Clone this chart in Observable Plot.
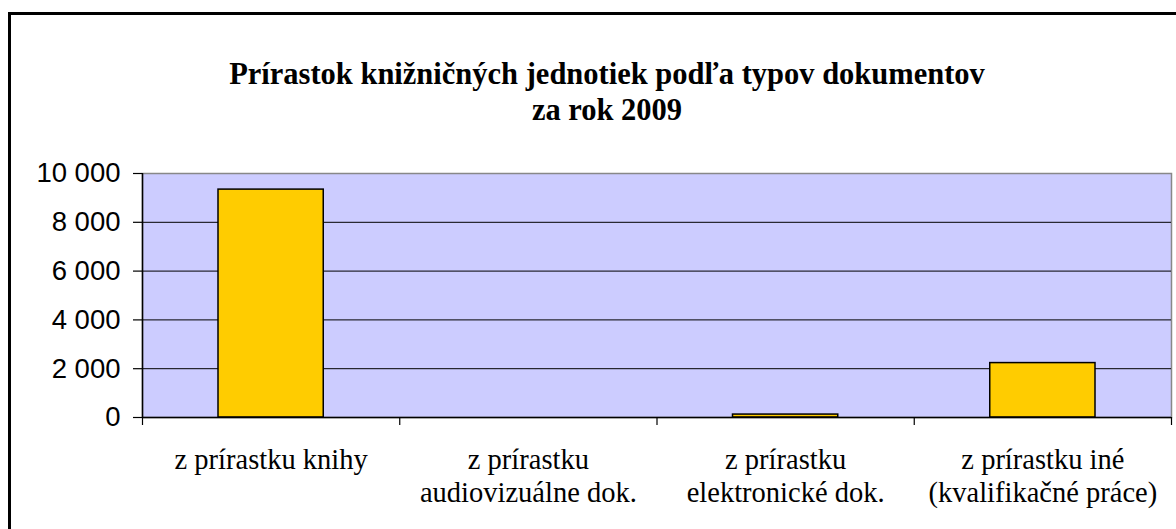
<!DOCTYPE html>
<html><head><meta charset="utf-8">
<script src="https://cdn.jsdelivr.net/npm/d3@7"></script>
<script src="https://cdn.jsdelivr.net/npm/@observablehq/plot@0.6"></script>
<style>
html,body{margin:0;padding:0;background:#fff;width:1176px;height:529px;overflow:hidden;}
#wrap{position:relative;width:1176px;height:529px;overflow:hidden;}
#frame{position:absolute;left:8px;top:12px;width:1220px;height:580px;border:3px solid #000;box-sizing:border-box;pointer-events:none;}
#title{position:absolute;left:0;top:56px;width:1214px;text-align:center;font-family:"Liberation Serif","Times New Roman",serif;font-weight:bold;font-size:30.5px;line-height:36px;color:#000;}
#chart{position:absolute;left:0;top:150px;}
</style></head>
<body><div id="wrap"><div id="frame"></div>
<div id="title">Prírastok knižničných jednotiek podľa typov dokumentov<br>za rok 2009</div>
<div id="chart"></div></div>
<script>
const categories = ["z prírastku knihy", "z prírastku\naudiovizuálne dok.", "z prírastku\nelektronické dok.", "z prírastku iné\n(kvalifikačné práce)"];
const values = [9340, 0, 120, 2230];
const yTicks = [0, 2000, 4000, 6000, 8000, 10000];

const data = categories.map((c, i) => ({category: c, index: i, value: values[i]}));
const fmt = d => d3.format(",")(d).replace(/,/g, " ");

const chart = Plot.plot({
  width: 1176,
  height: 379,
  marginTop: 23,
  marginBottom: 112,
  marginLeft: 142,
  marginRight: 5,
  x: {type: "linear", domain: [0, categories.length]},
  y: {domain: [0, 10000]},
  style: {background: "transparent", color: "#000"},
  marks: [
    Plot.frame({fill: "#CCCCFF", stroke: "#888888", strokeWidth: 1.5}),
    Plot.ruleY(yTicks.filter(t => t > 0 && t < 10000), {stroke: "#000", strokeWidth: 1}),
    Plot.rect(data, {x1: "index", x2: d => d.index + 1, y1: 0, y2: "value", insetLeft: 76, insetRight: 76, fill: "#FFCC00", stroke: "#000", strokeWidth: 1.5}),
    Plot.ruleY([0], {stroke: "#000", strokeWidth: 1.5}),
    Plot.ruleX([0], {stroke: "#000", strokeWidth: 1.5}),
    Plot.axisY({ticks: yTicks, tickFormat: fmt, tickSize: 9, tickPadding: 13, fontSize: 27.5, fontFamily: "Liberation Sans, Arial, sans-serif", label: null, stroke: "#000", strokeWidth: 1.2}),
    Plot.axisX({ticks: d3.range(categories.length + 1), tickFormat: () => "", tickSize: 8, label: null, stroke: "#000", strokeWidth: 1.2}),
    Plot.axisX({ticks: data.map(d => d.index + 0.5), tickFormat: v => categories[Math.floor(v)], tickSize: 0, tickPadding: 27, fontSize: 28.5, lineHeight: 1.19, fontFamily: "Liberation Serif, Times New Roman, serif", label: null})
  ]
});
document.getElementById("chart").appendChild(chart);
</script></body></html>
